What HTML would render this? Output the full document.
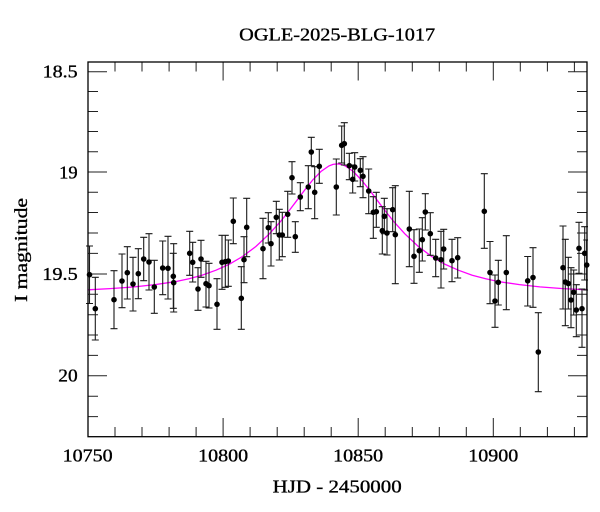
<!DOCTYPE html>
<html><head><meta charset="utf-8"><style>
html,body{margin:0;padding:0;background:#fff;}
svg{display:block;}
text{font-family:"Liberation Serif",serif;fill:#000;stroke:#000;stroke-width:0.35;}
</style></head><body>
<svg width="600" height="512" viewBox="0 0 600 512" xmlns="http://www.w3.org/2000/svg">
<rect width="600" height="512" fill="#fff"/>
<text x="337.2" y="40.7" font-size="18" text-anchor="middle" textLength="196" lengthAdjust="spacingAndGlyphs">OGLE-2025-BLG-1017</text>
<text x="337.2" y="492.3" font-size="18" text-anchor="middle" textLength="129" lengthAdjust="spacingAndGlyphs">HJD - 2450000</text>
<text transform="translate(27,250) rotate(-90)" x="0" y="0" font-size="18" text-anchor="middle" textLength="104" lengthAdjust="spacingAndGlyphs">I magnitude</text>
<g font-size="18" text-anchor="middle">
<text x="87.7" y="461.7" textLength="50" lengthAdjust="spacingAndGlyphs">10750</text>
<text x="223.1" y="461.7" textLength="50" lengthAdjust="spacingAndGlyphs">10800</text>
<text x="358.2" y="461.7" textLength="50" lengthAdjust="spacingAndGlyphs">10850</text>
<text x="493.3" y="461.7" textLength="50" lengthAdjust="spacingAndGlyphs">10900</text>
</g>
<g font-size="18" text-anchor="end">
<text x="77.7" y="77.7" textLength="35" lengthAdjust="spacingAndGlyphs">18.5</text>
<text x="77.7" y="178.3" textLength="18.5" lengthAdjust="spacingAndGlyphs">19</text>
<text x="77.7" y="280" textLength="35.4" lengthAdjust="spacingAndGlyphs">19.5</text>
<text x="77.7" y="381.7" textLength="19.4" lengthAdjust="spacingAndGlyphs">20</text>
</g>
<g stroke="#222" stroke-width="1" fill="none">
<path d="M88,436.7V418 M115,436.7V427 M142,436.7V427 M169.1,436.7V427 M196.1,436.7V427 M223.1,436.7V418 M250.1,436.7V427 M277.2,436.7V427 M304.2,436.7V427 M331.2,436.7V427 M358.2,436.7V418 M385.2,436.7V427 M412.3,436.7V427 M439.3,436.7V427 M466.3,436.7V427 M493.3,436.7V418 M520.3,436.7V427 M547.4,436.7V427 M574.4,436.7V427"/>
<path d="M115,62V71.5 M142,62V71.5 M169.1,62V71.5 M196.1,62V71.5 M223.1,62V80.5 M250.1,62V71.5 M277.2,62V71.5 M304.2,62V71.5 M331.2,62V71.5 M358.2,62V80.5 M385.2,62V71.5 M412.3,62V71.5 M439.3,62V71.5 M466.3,62V71.5 M493.3,62V80.5 M520.3,62V71.5 M547.4,62V71.5 M574.4,62V71.5"/>
<path d="M88,71.7H107 M88,91.5H98 M88,111.5H98 M88,131.5H98 M88,151.7H98 M88,172H107 M88,192.3H98 M88,212.5H98 M88,233H98 M88,253.4H98 M88,274H107 M88,294.3H98 M88,314.7H98 M88,335H98 M88,355.4H98 M88,375.7H107 M88,396.2H98 M88,416.6H98"/>
<path d="M587,71.7H568 M587,91.5H577 M587,111.5H577 M587,131.5H577 M587,151.7H577 M587,172H568 M587,192.3H577 M587,212.5H577 M587,233H577 M587,253.4H577 M587,274H568 M587,294.3H577 M587,314.7H577 M587,335H577 M587,355.4H577 M587,375.7H568 M587,396.2H577 M587,416.6H577"/>
</g>
<polyline fill="none" stroke="#ff00ff" stroke-width="1.3" points="88,289.8 110,288.6 134.4,286.9 155,284.6 175,281.7 189,278.8 202,275.2 216,270.2 229,264.4 242.5,256.5 256,246.4 269.5,233.7 280.4,221.6 288.5,211.5 296.6,200.8 304.7,190 312.8,179.9 320.9,171.5 329,165.9 333,164.4 337.1,163.9 341.2,164.4 345.2,165.9 353.3,171.5 361.4,179.9 369.5,190 377.6,200.8 385.7,211.5 393.8,221.6 404.7,233.7 418.2,246.4 431.7,256.5 445.2,264.4 458.7,270.3 472.2,275.2 485.7,278.8 499.2,281.7 519.5,284.6 539.8,286.9 563,288.6 587,289.8"/>
<g stroke="#1a1a1a" stroke-width="1.1" fill="none">
<path d="M89.5,246V303.5 M86,246H93 M86,303.5H93 M95.3,277.3V340 M91.8,277.3H98.8 M91.8,340H98.8 M114,270.7V328.7 M110.5,270.7H117.5 M110.5,328.7H117.5 M122,254V307.7 M118.5,254H125.5 M118.5,307.7H125.5 M127.3,246.7V299 M123.8,246.7H130.8 M123.8,299H130.8 M133,257.3V311 M129.5,257.3H136.5 M129.5,311H136.5 M138.3,248.7V298.7 M134.8,248.7H141.8 M134.8,298.7H141.8 M143.7,237.3V280.7 M140.2,237.3H147.2 M140.2,280.7H147.2 M149,233.7V290 M145.5,233.7H152.5 M145.5,290H152.5 M154.3,260.3V313.3 M150.8,260.3H157.8 M150.8,313.3H157.8 M162.7,241V294.7 M159.2,241H166.2 M159.2,294.7H166.2 M168,236.3V299 M164.5,236.3H171.5 M164.5,299H171.5 M173.3,253.3V308.3 M169.8,253.3H176.8 M169.8,308.3H176.8 M173.7,243.7V312 M170.2,243.7H177.2 M170.2,312H177.2 M189.7,231.3V275.3 M186.2,231.3H193.2 M186.2,275.3H193.2 M192.7,242.3V282 M189.2,242.3H196.2 M189.2,282H196.2 M198,267.7V310.3 M194.5,267.7H201.5 M194.5,310.3H201.5 M201,240.3V277.3 M197.5,240.3H204.5 M197.5,277.3H204.5 M206,261.3V307 M202.5,261.3H209.5 M202.5,307H209.5 M209,263.3V308 M205.5,263.3H212.5 M205.5,308H212.5 M217,278.7V329.3 M213.5,278.7H220.5 M213.5,329.3H220.5 M222,235.3V289.3 M218.5,235.3H225.5 M218.5,289.3H225.5 M225.3,235.3V287.3 M221.8,235.3H228.8 M221.8,287.3H228.8 M228.3,240V286.3 M224.8,240H231.8 M224.8,286.3H231.8 M233.3,198V243.7 M229.8,198H236.8 M229.8,243.7H236.8 M241.3,266.7V329.3 M237.8,266.7H244.8 M237.8,329.3H244.8 M244,236.7V282.7 M240.5,236.7H247.5 M240.5,282.7H247.5 M246.7,198.3V256.7 M243.2,198.3H250.2 M243.2,256.7H250.2 M263,218.3V278.7 M259.5,218.3H266.5 M259.5,278.7H266.5 M268.3,212.7V243 M264.8,212.7H271.8 M264.8,243H271.8 M271,221.7V266 M267.5,221.7H274.5 M267.5,266H274.5 M276.3,201.3V233.7 M272.8,201.3H279.8 M272.8,233.7H279.8 M279.3,209.3V260 M275.8,209.3H282.8 M275.8,260H282.8 M282.3,212.3V256.7 M278.8,212.3H285.8 M278.8,256.7H285.8 M287.7,191.3V237.3 M284.2,191.3H291.2 M284.2,237.3H291.2 M292,161.7V194 M288.5,161.7H295.5 M288.5,194H295.5 M295.3,221.7V252.3 M291.8,221.7H298.8 M291.8,252.3H298.8 M300.3,182.7V210.7 M296.8,182.7H303.8 M296.8,210.7H303.8 M308.3,165.7V208.7 M304.8,165.7H311.8 M304.8,208.7H311.8 M311.3,137.3V165.7 M307.8,137.3H314.8 M307.8,165.7H314.8 M314.7,166.7V218.7 M311.2,166.7H318.2 M311.2,218.7H318.2 M319.3,149.3V183.3 M315.8,149.3H322.8 M315.8,183.3H322.8 M336.3,159V215 M332.8,159H339.8 M332.8,215H339.8 M341.7,126V163 M338.2,126H345.2 M338.2,163H345.2 M344.3,122.7V165 M340.8,122.7H347.8 M340.8,165H347.8 M349.3,153.3V179.7 M345.8,153.3H352.8 M345.8,179.7H352.8 M352.7,165V193 M349.2,165H356.2 M349.2,193H356.2 M354.7,152.7V181 M351.2,152.7H358.2 M351.2,181H358.2 M360.3,158.7V186.7 M356.8,158.7H363.8 M356.8,186.7H363.8 M363,156.7V197.7 M359.5,156.7H366.5 M359.5,197.7H366.5 M368.7,169V213.7 M365.2,169H372.2 M365.2,213.7H372.2 M373.3,196.7V238.3 M369.8,196.7H376.8 M369.8,238.3H376.8 M376.3,192.3V227.3 M372.8,192.3H379.8 M372.8,227.3H379.8 M382.3,206.7V254 M378.8,206.7H385.8 M378.8,254H385.8 M384.3,198.3V233.7 M380.8,198.3H387.8 M380.8,233.7H387.8 M387,208.7V255 M383.5,208.7H390.5 M383.5,255H390.5 M392.7,187.7V231.7 M389.2,187.7H396.2 M389.2,231.7H396.2 M395.3,185.7V283.7 M391.8,185.7H398.8 M391.8,283.7H398.8 M409.3,191.3V266.7 M405.8,191.3H412.8 M405.8,266.7H412.8 M414,229.7V283.3 M410.5,229.7H417.5 M410.5,283.3H417.5 M419.3,229V272.3 M415.8,229H422.8 M415.8,272.3H422.8 M422.3,217.7V261 M418.8,217.7H425.8 M418.8,261H425.8 M425.3,193.7V230 M421.8,193.7H428.8 M421.8,230H428.8 M430.3,212.7V255.3 M426.8,212.7H433.8 M426.8,255.3H433.8 M435.7,239.3V276.7 M432.2,239.3H439.2 M432.2,276.7H439.2 M441,231.3V288 M437.5,231.3H444.5 M437.5,288H444.5 M443.7,229.3V269 M440.2,229.3H447.2 M440.2,269H447.2 M452,239.3V281.7 M448.5,239.3H455.5 M448.5,281.7H455.5 M457.7,237.7V278 M454.2,237.7H461.2 M454.2,278H461.2 M484.3,173.7V248.3 M480.8,173.7H487.8 M480.8,248.3H487.8 M490,241.5V303.7 M486.5,241.5H493.5 M486.5,303.7H493.5 M495,275V327.3 M491.5,275H498.5 M491.5,327.3H498.5 M498.3,260.3V305 M494.8,260.3H501.8 M494.8,305H501.8 M506.3,235.7V309.7 M502.8,235.7H509.8 M502.8,309.7H509.8 M527.7,256.5V306 M524.2,256.5H531.2 M524.2,306H531.2 M533,247.7V307.3 M529.5,247.7H536.5 M529.5,307.3H536.5 M538.3,312.7V391.7 M534.8,312.7H541.8 M534.8,391.7H541.8 M563,226V309 M559.5,226H566.5 M559.5,309H566.5 M565.3,239.3V325.7 M561.8,239.3H568.8 M561.8,325.7H568.8 M568.3,257.3V309 M564.8,257.3H571.8 M564.8,309H571.8 M571,267.7V327.7 M567.5,267.7H574.5 M567.5,327.7H574.5 M573.7,270V315 M570.2,270H577.2 M570.2,315H577.2 M576.3,284.7V336.7 M572.8,284.7H579.8 M572.8,336.7H579.8 M579,222.3V273.3 M575.5,222.3H582.5 M575.5,273.3H582.5 M582,289V347.3 M578.5,289H585.5 M578.5,347.3H585.5 M584.7,226.7V280 M581.2,226.7H588 M581.2,280H588 M586.7,240V290 M583.2,240H588 M583.2,290H588"/>
</g>
<g fill="#000">
<circle cx="89.5" cy="274.7" r="2.8"/><circle cx="95.3" cy="308.7" r="2.8"/><circle cx="114" cy="299.7" r="2.8"/>
<circle cx="122" cy="281" r="2.8"/><circle cx="127.3" cy="272.7" r="2.8"/><circle cx="133" cy="284" r="2.8"/>
<circle cx="138.3" cy="273.7" r="2.8"/><circle cx="143.7" cy="259" r="2.8"/><circle cx="149" cy="262" r="2.8"/>
<circle cx="154.3" cy="287" r="2.8"/><circle cx="162.7" cy="268" r="2.8"/><circle cx="168" cy="268.3" r="2.8"/>
<circle cx="173.3" cy="276.3" r="2.8"/><circle cx="173.7" cy="282.7" r="2.8"/><circle cx="189.7" cy="253.3" r="2.8"/>
<circle cx="192.7" cy="262.3" r="2.8"/><circle cx="198" cy="289" r="2.8"/><circle cx="201" cy="259" r="2.8"/>
<circle cx="206" cy="283.7" r="2.8"/><circle cx="209" cy="285.7" r="2.8"/><circle cx="217" cy="304.3" r="2.8"/>
<circle cx="222" cy="262.3" r="2.8"/><circle cx="225.3" cy="261.7" r="2.8"/><circle cx="228.3" cy="261" r="2.8"/>
<circle cx="233.3" cy="221.3" r="2.8"/><circle cx="241.3" cy="298.3" r="2.8"/><circle cx="244" cy="259.7" r="2.8"/>
<circle cx="246.7" cy="227.3" r="2.8"/><circle cx="263" cy="248.7" r="2.8"/><circle cx="268.3" cy="227.7" r="2.8"/>
<circle cx="271" cy="243.7" r="2.8"/><circle cx="276.3" cy="217.3" r="2.8"/><circle cx="279.3" cy="235" r="2.8"/>
<circle cx="282.3" cy="235" r="2.8"/><circle cx="287.7" cy="214.3" r="2.8"/><circle cx="292" cy="177.7" r="2.8"/>
<circle cx="295.3" cy="236.7" r="2.8"/><circle cx="300.3" cy="197" r="2.8"/><circle cx="308.3" cy="187" r="2.8"/>
<circle cx="311.3" cy="152" r="2.8"/><circle cx="314.7" cy="192.3" r="2.8"/><circle cx="319.3" cy="166.3" r="2.8"/>
<circle cx="336.3" cy="187" r="2.8"/><circle cx="341.7" cy="145.3" r="2.8"/><circle cx="344.3" cy="143.7" r="2.8"/>
<circle cx="349.3" cy="165.7" r="2.8"/><circle cx="352.7" cy="179.3" r="2.8"/><circle cx="354.7" cy="167" r="2.8"/>
<circle cx="360.3" cy="170.3" r="2.8"/><circle cx="363" cy="176.3" r="2.8"/><circle cx="368.7" cy="191" r="2.8"/>
<circle cx="373.3" cy="212.3" r="2.8"/><circle cx="376.3" cy="211.7" r="2.8"/><circle cx="382.3" cy="230.7" r="2.8"/>
<circle cx="384.3" cy="216.3" r="2.8"/><circle cx="387" cy="233" r="2.8"/><circle cx="392.7" cy="209.7" r="2.8"/>
<circle cx="395.3" cy="234.7" r="2.8"/><circle cx="409.3" cy="229" r="2.8"/><circle cx="414" cy="256.3" r="2.8"/>
<circle cx="419.3" cy="250.7" r="2.8"/><circle cx="422.3" cy="239.7" r="2.8"/><circle cx="425.3" cy="212" r="2.8"/>
<circle cx="430.3" cy="233.7" r="2.8"/><circle cx="435.7" cy="258" r="2.8"/><circle cx="441" cy="259.7" r="2.8"/>
<circle cx="443.7" cy="249" r="2.8"/><circle cx="452" cy="260.7" r="2.8"/><circle cx="457.7" cy="257.7" r="2.8"/>
<circle cx="484.3" cy="211.3" r="2.8"/><circle cx="490" cy="272.5" r="2.8"/><circle cx="495" cy="301" r="2.8"/>
<circle cx="498.3" cy="282.3" r="2.8"/><circle cx="506.3" cy="272.5" r="2.8"/><circle cx="527.7" cy="280.8" r="2.8"/>
<circle cx="533" cy="277.5" r="2.8"/><circle cx="538.3" cy="352" r="2.8"/><circle cx="563" cy="267.7" r="2.8"/>
<circle cx="565.3" cy="282" r="2.8"/><circle cx="568.3" cy="283.5" r="2.8"/><circle cx="571" cy="300" r="2.8"/>
<circle cx="573.7" cy="292.3" r="2.8"/><circle cx="576.3" cy="310" r="2.8"/><circle cx="579" cy="248.3" r="2.8"/>
<circle cx="582" cy="308.7" r="2.8"/><circle cx="584.7" cy="253.3" r="2.8"/><circle cx="586.7" cy="265" r="2.8"/>
</g>
<rect x="88" y="62" width="499" height="374.7" fill="none" stroke="#000" stroke-width="1.3"/>
</svg>
</body></html>
